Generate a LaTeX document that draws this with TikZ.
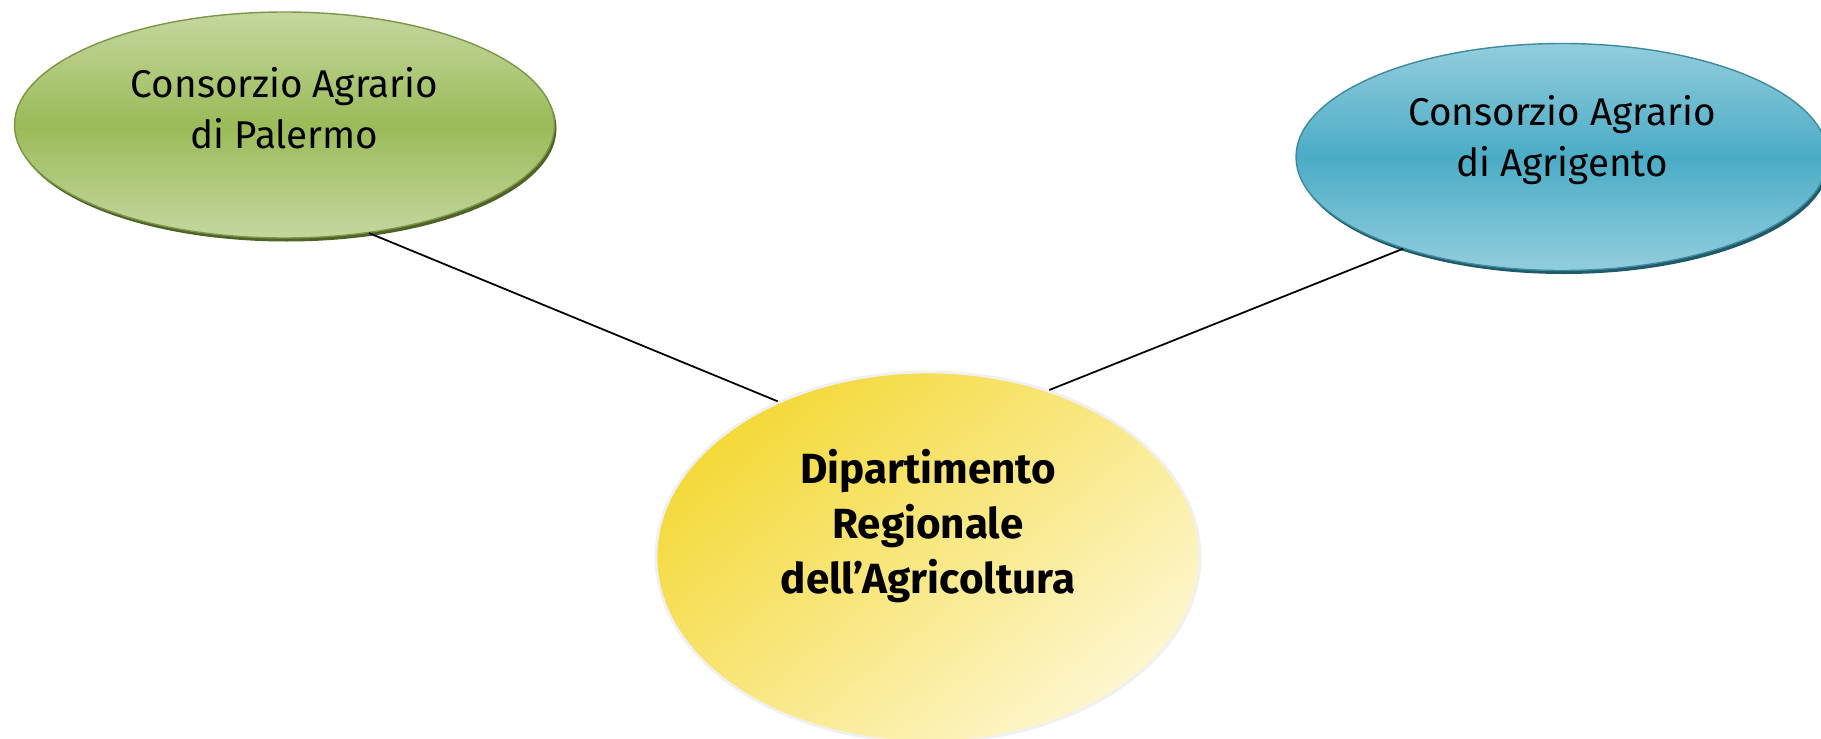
\documentclass[tikz,border=0pt]{standalone}
\usepackage{fontspec}
\setmainfont{Fira Sans}
\usepackage{xcolor}
\usetikzlibrary{shapes.geometric, shadows}

\definecolor{greenlight}{HTML}{C4D79F}
\definecolor{greenmid}{HTML}{9BBB59}
\definecolor{greendark}{HTML}{4F6228}
\definecolor{bluelight}{HTML}{93CDDD}
\definecolor{bluemid}{HTML}{4BACC6}
\definecolor{bluedark}{HTML}{215968}
\definecolor{yellowtop}{HTML}{F4D938}
\definecolor{yellowbot}{HTML}{FDF6CE}

\begin{document}
\begin{tikzpicture}[
  bubble/.style={ellipse, inner sep=0pt, draw=#1mid!80!black, line width=0.4pt,
    top color=#1light, bottom color=#1light, middle color=#1mid,
    drop shadow={shadow xshift=0.02cm, shadow yshift=-0.035cm, fill=#1dark, opacity=1}},
  link/.style={line width=0.5pt, black},
  txt/.style={font=\fontsize{11}{14.5}\selectfont, align=center}
]
\useasboundingbox (0,0) rectangle (18.21,-7.39);

% outer consortia
\node[bubble=green, minimum width=5.40cm, minimum height=2.26cm,
  label={[txt, yshift=0.17cm]center:Consorzio Agrario\\di Palermo}] (palermo) at (2.845,-1.25) {};
\node[bubble=blue, minimum width=5.32cm, minimum height=2.27cm,
  label={[txt, yshift=0.17cm]center:Consorzio Agrario\\di Agrigento}] (agrigento) at (15.62,-1.57) {};

% central department
\node[ellipse, inner sep=0pt, minimum width=5.44cm, minimum height=3.70cm,
  draw=gray!12, line width=0.8pt, top color=yellowtop, bottom color=yellowbot, shading angle=40,
  label={[txt, font=\fontsize{12}{15.7}\bfseries\selectfont, yshift=0.31cm]center:Dipartimento\\Regionale\\dell’Agricoltura}] (dip) at (9.28,-5.57) {};

\draw[link] (palermo.-52) -- (dip.134);
\draw[link] (agrigento.210) -- (dip.54);
\end{tikzpicture}
\end{document}
